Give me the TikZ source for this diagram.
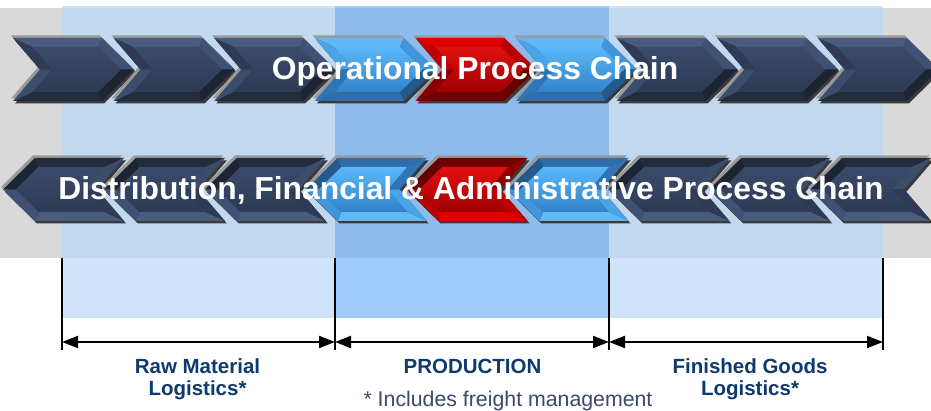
\documentclass[tikz,border=0pt]{standalone}
\usepackage{fontspec}
\setmainfont{Liberation Sans}
\usetikzlibrary{arrows.meta}
% dark scheme
\definecolor{dktop}{HTML}{4A5C7D}\definecolor{dkul}{HTML}{2F3B56}\definecolor{dkll}{HTML}{3C4D6C}
\definecolor{dkur}{HTML}{3F5276}\definecolor{dklr}{HTML}{1D2434}\definecolor{dkbot}{HTML}{232C3D}
\definecolor{dkct}{HTML}{3A4B6A}\definecolor{dkcm}{HTML}{4A5E82}\definecolor{dkcb}{HTML}{2C3A54}
% blue scheme
\definecolor{bltop}{HTML}{62B8F4}\definecolor{blul}{HTML}{4AA4E8}\definecolor{blll}{HTML}{2F74B6}
\definecolor{blur}{HTML}{3F96DA}\definecolor{bllr}{HTML}{23598C}\definecolor{blbot}{HTML}{2F6EA8}
\definecolor{blct}{HTML}{5AB8F8}\definecolor{blcm}{HTML}{4AA6EC}\definecolor{blcb}{HTML}{3282C8}
% red scheme
\definecolor{rdtop}{HTML}{E00000}\definecolor{rdul}{HTML}{C00000}\definecolor{rdll}{HTML}{8A0000}
\definecolor{rdur}{HTML}{B80000}\definecolor{rdlr}{HTML}{6A0000}\definecolor{rdbot}{HTML}{700000}
\definecolor{rdct}{HTML}{E21010}\definecolor{rdcm}{HTML}{CC0000}\definecolor{rdcb}{HTML}{A00000}
% others
\definecolor{shgray}{HTML}{9A9A9A}\definecolor{shdark}{HTML}{3A3A3A}
\definecolor{bandgray}{HTML}{D9D9D9}
\definecolor{paneA}{HTML}{C2D8EE}\definecolor{paneAw}{HTML}{CFE4FB}
\definecolor{paneB}{HTML}{8DBBEB}\definecolor{paneBw}{HTML}{9ECBFA}
\definecolor{labnavy}{HTML}{0F3A6E}\definecolor{notecol}{HTML}{3B4A68}

\newcommand\chevshape[1]{\fill[#1] (0,0)--(89,0)--(121,31.5)--(89,63)--(0,63)--(27,31.5)--cycle;}
\newcommand\chevbody[1]{%
  \fill[#1top] (0,0)--(89,0)--(85.3,9)--(19.6,9)--cycle;
  \fill[#1ur] (89,0)--(121,31.5)--(108.2,31.5)--(85.3,9)--cycle;
  \fill[#1lr] (121,31.5)--(89,63)--(85.3,54)--(108.2,31.5)--cycle;
  \fill[#1bot] (89,63)--(0,63)--(19.6,54)--(85.3,54)--cycle;
  \fill[#1ll] (0,63)--(27,31.5)--(38.9,31.5)--(19.6,54)--cycle;
  \fill[#1ul] (27,31.5)--(0,0)--(19.6,9)--(38.9,31.5)--cycle;
  \shade[top color=#1ct, middle color=#1cm, bottom color=#1cb]
    (19.6,9)--(85.3,9)--(108.2,31.5)--(85.3,54)--(19.6,54)--(38.9,31.5)--cycle;}
\newcommand\chevR[3]{%
  \begin{scope}[shift={(#1-2,#2-2.5)}]\chevshape{shgray}\end{scope}
  \begin{scope}[shift={(#1+2,#2+2.5)}]\chevshape{shdark}\end{scope}
  \begin{scope}[shift={(#1,#2)}]\chevbody{#3}\end{scope}}
\newcommand\chevL[3]{%
  \begin{scope}[shift={(#1+89-2,#2+63-2.5)},xscale=-1,yscale=-1]\chevshape{shgray}\end{scope}
  \begin{scope}[shift={(#1+89+2,#2+63+2.5)},xscale=-1,yscale=-1]\chevshape{shdark}\end{scope}
  \begin{scope}[shift={(#1+89,#2+63)},xscale=-1,yscale=-1]\chevbody{#3}\end{scope}}

\begin{document}
\begin{tikzpicture}[x=1pt,y=-1pt,
  chaintext/.style={text=white,font=\fontsize{31.8}{36}\selectfont\bfseries,anchor=base,inner sep=0pt},
  lab/.style={text=labnavy,font=\fontsize{20.5}{24}\selectfont\bfseries,anchor=base,inner sep=0pt},
  note/.style={text=notecol,font=\fontsize{21.3}{24}\selectfont,anchor=base,inner sep=0pt},
  vline/.style={line width=1.5pt,black},
  span/.style={line width=1.8pt,black,{Triangle[length=16pt,width=12pt]}-{Triangle[length=16pt,width=12pt]}}]
\useasboundingbox (0,0) rectangle (931,411);
\clip (0,0) rectangle (931,411);
\fill[white] (0,0) rectangle (931,411);
% panels (lighter part below the band)
\fill[paneAw] (62,6) rectangle (335,318);
\fill[paneBw] (335,6) rectangle (609,318);
\fill[paneAw] (609,6) rectangle (883,318);
% gray band and panels over it
\fill[bandgray] (0,8) rectangle (931,258);
\fill[paneA] (62,8) rectangle (335,258);
\fill[paneB] (335,8) rectangle (609,258);
\fill[paneA] (609,8) rectangle (883,258);
% chevron rows
\foreach \i/\s in {0/dk,1/dk,2/dk,3/bl,4/rd,5/bl,6/dk,7/dk,8/dk}{
  \pgfmathsetmacro\xa{13+100.6*\i}
  \chevR{\xa}{38}{\s}
  \pgfmathsetmacro\xb{35+100.9*\i}
  \chevL{\xb}{158}{\s}
}
\node[chaintext] (opc) at (475,80) {Operational Process Chain};
\node[chaintext] (dfa) at (471,200) {Distribution, Financial \& Administrative Process Chain};
% dimension lines
\coordinate (t1) at (62,258); \coordinate (b1) at (62,350);
\coordinate (t2) at (335,258); \coordinate (b2) at (335,350);
\coordinate (t3) at (609,258); \coordinate (b3) at (609,350);
\coordinate (t4) at (883,258); \coordinate (b4) at (883,350);
\draw[vline] (t1) -- (b1);
\draw[vline] (t2) -- (b2);
\draw[vline] (t3) -- (b3);
\draw[vline] (t4) -- (b4);
\coordinate (a1) at (62,342); \coordinate (a2) at (335,342);
\coordinate (a3) at (609,342); \coordinate (a4) at (883,342);
\draw[span] (a1) -- (a2);
\draw[span] (a2) -- (a3);
\draw[span] (a3) -- (a4);
% labels
\node[lab] (rm1) at (197.5,373) {Raw Material};
\node[lab] (rm2) at (197.5,395) {Logistics*};
\node[lab] (prd) at (472.5,373) {PRODUCTION};
\node[lab] (fg1) at (750,373) {Finished Goods};
\node[lab] (fg2) at (750,395) {Logistics*};
\node[note] (fn) at (508,406) {* Includes freight management};
\end{tikzpicture}
\end{document}
